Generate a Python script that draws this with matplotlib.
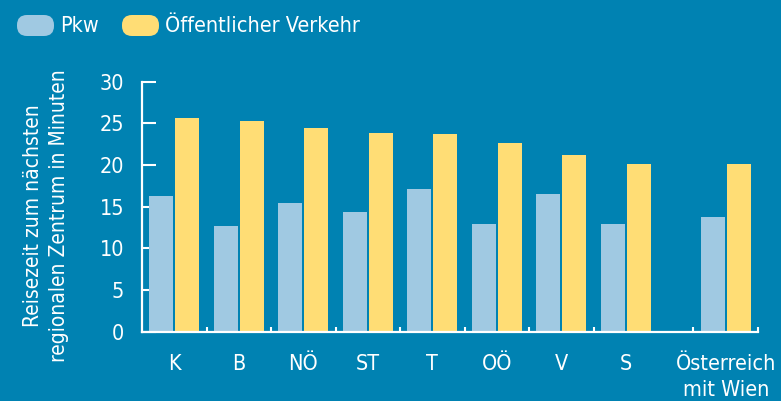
import numpy as np
import matplotlib
matplotlib.use("Agg")
import matplotlib.pyplot as plt
from matplotlib.patches import FancyBboxPatch

plt.rcParams['font.family'] = ['DejaVu Sans']
plt.rcParams['font.stretch'] = 'condensed'

# data
regionen = ["K", "B", "NÖ", "ST", "T", "OÖ", "V", "S", "Österreich\nmit Wien"]
pkw = [16.3, 12.7, 15.4, 14.4, 17.1, 12.9, 16.5, 12.9, 13.8]
oev = [25.6, 25.3, 24.5, 23.9, 23.7, 22.6, 21.2, 20.1, 20.1]
yticks = [0, 5, 10, 15, 20, 25, 30]

bg = "#0082B2"
c_pkw = "#A0C9E2"
c_oev = "#FFDD75"

# Österreich stands a bit apart from the Länder
x = np.array([0, 1, 2, 3, 4, 5, 6, 7, 8.55])
grenzen = [0.5, 1.5, 2.5, 3.5, 4.5, 5.5, 6.5, 8.05, 9.05]

fig = plt.figure(figsize=(7.81, 4.01), dpi=100, facecolor=bg)
ax = fig.add_axes([142/781, 69.3/401, 616/781, 250/401])
ax.set_facecolor(bg)

w = 0.372
ax.bar(x - 0.205, pkw, w, color=c_pkw, zorder=2)
ax.bar(x + 0.2, oev, w, color=c_oev, zorder=2)

ax.set_xlim(-0.5, 9.05)
ax.set_ylim(0, 30)
ax.set_yticks(yticks)
ax.set_xticks(x)
ax.set_xticklabels(regionen)
ax.set_xticks(grenzen, minor=True)

for s in ["top", "right"]:
    ax.spines[s].set_visible(False)
for s in ["left", "bottom"]:
    ax.spines[s].set_color("white")
    ax.spines[s].set_linewidth(1.6)
    ax.spines[s].set_zorder(3)

ax.tick_params(axis="y", direction="in", length=10, width=1.5, colors="white",
               labelsize=15.5, pad=13)
ax.tick_params(axis="x", which="major", length=0, colors="white", labelsize=15.5, pad=16)
ax.tick_params(axis="x", which="minor", direction="in", length=3.6, width=1.5, color="white")
for lab in ax.get_xticklabels():
    lab.set_linespacing(1.35)

fig.text(46/781, 1 - 216/401, "Reisezeit zum nächsten\nregionalen Zentrum in Minuten",
         rotation=90, color="white", fontsize=15, ha="center", va="center",
         linespacing=1.35)

# legend with pill shaped handles, drawn on an overlay in pixel units
lg = fig.add_axes([0, 0, 1, 1])
lg.set_xlim(0, 781)
lg.set_ylim(401, 0)
lg.axis("off")
for x0, farbe, txt, tx in [(17, c_pkw, "Pkw", 60), (122, c_oev, "Öffentlicher Verkehr", 165)]:
    lg.add_patch(FancyBboxPatch((x0, 15), 37, 21, boxstyle="round,pad=0,rounding_size=10",
                                facecolor=farbe, edgecolor="none"))
    lg.text(tx, 25.5, txt, color="white", fontsize=15.5, ha="left", va="center")

fig.savefig("out.png", dpi=100, facecolor=bg)
